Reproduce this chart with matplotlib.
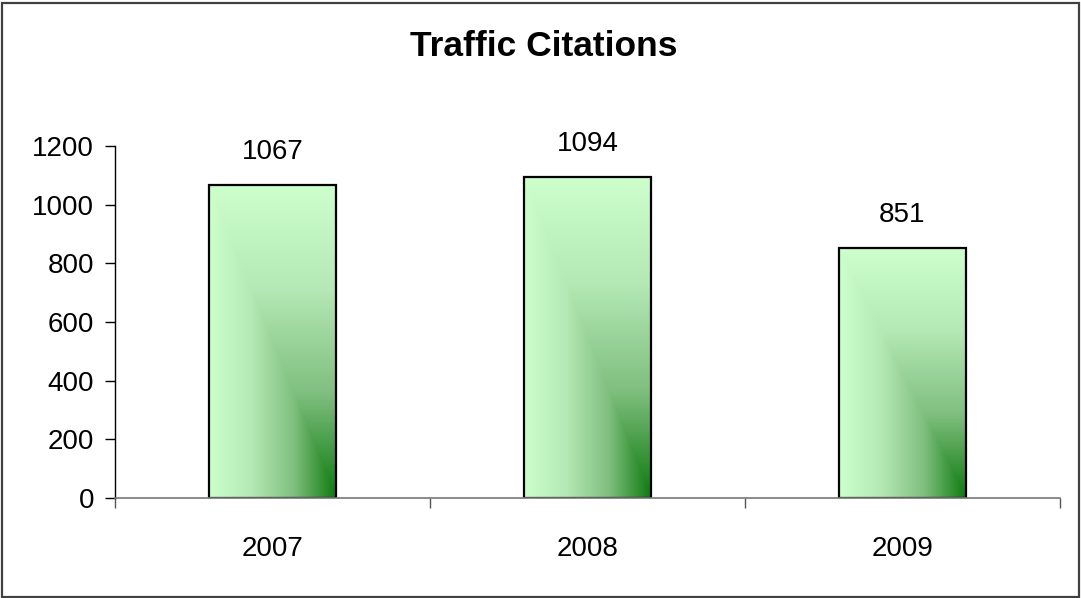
import numpy as np
import matplotlib
matplotlib.use("Agg")
import matplotlib.pyplot as plt
from matplotlib.patches import Rectangle
from matplotlib.colors import LinearSegmentedColormap

categories = ["2007", "2008", "2009"]
values = [1067, 1094, 851]
y_ticks = [0, 200, 400, 600, 800, 1000, 1200]
title = "Traffic Citations"

plt.rcParams['font.family'] = ['Liberation Sans', 'DejaVu Sans']

W, H = 1081, 598
fig = plt.figure(figsize=(W / 100, H / 100), dpi=100)
ax = fig.add_axes([115 / W, 1 - 498 / H, (1060 - 115) / W, (498 - 146) / H])

x = np.arange(len(categories))
bar_w = 0.405
bars = ax.bar(x, values, width=bar_w, facecolor='none', edgecolor='black', linewidth=1.6, zorder=3)

cmap = LinearSegmentedColormap.from_list("g", ["#CCFFCC", "#B4E8B4", "#7FBF7F", "#0E7A0E"])
n = 200
xf = np.linspace(0, 1, n)[None, :]
yf = np.linspace(0, 1, n)[:, None]  # 0 at top row
t = np.minimum(xf, yf)
for b in bars:
    x0, y0 = b.get_x(), b.get_y()
    w, h = b.get_width(), b.get_height()
    im = ax.imshow(t, cmap=cmap, vmin=0, vmax=1, extent=[x0, x0 + w, y0, y0 + h],
                   origin='upper', aspect='auto', zorder=2, interpolation='bilinear')
    im.set_clip_path(b)
    ax.annotate(str(int(h)), xy=(x0 + w / 2, h), xytext=(0, 24), textcoords='offset points',
                ha='center', va='center', fontsize=20, zorder=4)

ax.set_xlim(-0.5, len(categories) - 0.5)
ax.set_ylim(0, 1200)
ax.set_yticks(y_ticks)
ax.set_yticklabels([str(v) for v in y_ticks], fontsize=20)
ax.set_xticks(x)
ax.set_xticklabels(categories, fontsize=20)
ax.set_xticks([-0.5, 0.5, 1.5, 2.5], minor=True)
ax.tick_params(axis='x', which='major', length=0, pad=27)
ax.tick_params(axis='x', which='minor', length=7, width=1, color='#555555', direction='out')
ax.tick_params(axis='y', length=7, width=1, pad=8, direction='out')

for s in ['top', 'right']:
    ax.spines[s].set_visible(False)
ax.spines['left'].set_color('black')
ax.spines['left'].set_linewidth(1)
ax.spines['bottom'].set_color('#777777')
ax.spines['bottom'].set_linewidth(1.2)
ax.spines['bottom'].set_zorder(5)

fig.text(544 / W, 1 - 47 / H, title, ha='center', va='center', fontsize=25.5, fontweight='bold')

fig.patches.append(Rectangle((1.5 / W, 1.5 / H), (W - 4) / W, (H - 4) / H, transform=fig.transFigure,
                             fill=False, edgecolor='#404040', linewidth=1.6))

fig.savefig("out.png", dpi=100)
